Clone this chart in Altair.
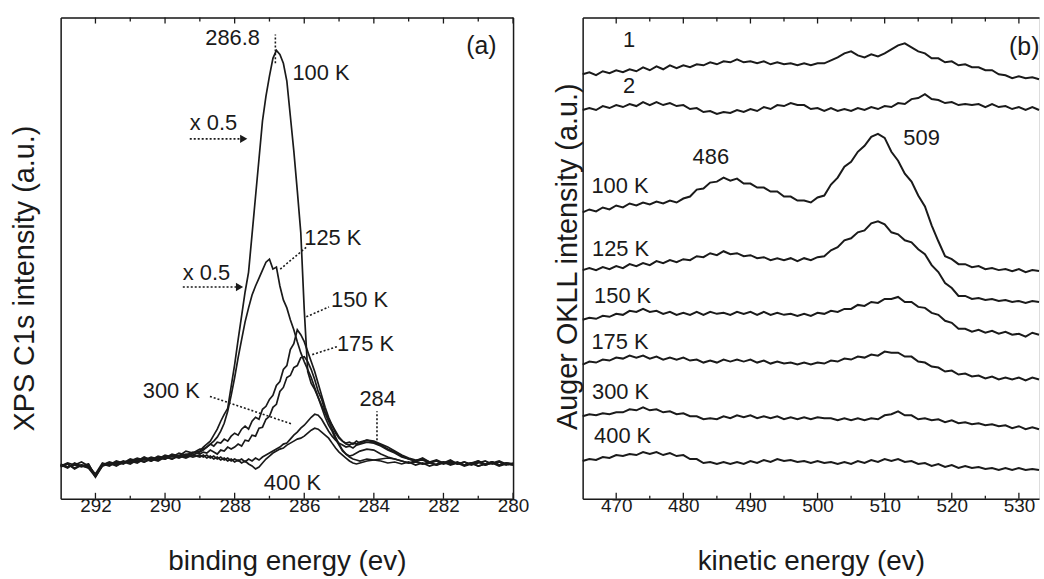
import altair as alt
import pandas as pd

FONT = "Liberation Sans"
INK = "#1a1a1a"

# ---------------- Panel (a): XPS C1s ----------------
E_A = [293.0, 292.8, 292.6, 292.4, 292.2, 292.0, 291.8, 291.6, 291.4, 291.2, 291.0,
       290.8, 290.6, 290.4, 290.2, 290.0, 289.8, 289.6, 289.4, 289.2, 289.0,
       288.9, 288.8, 288.7, 288.6, 288.5, 288.4, 288.3, 288.2, 288.1, 288.0,
       287.9, 287.8, 287.7, 287.6, 287.5, 287.4, 287.3, 287.2, 287.1, 287.0,
       286.9, 286.8, 286.7, 286.6, 286.5, 286.4, 286.3, 286.2, 286.1, 286.0,
       285.9, 285.8, 285.7, 285.6, 285.5, 285.4, 285.3, 285.2, 285.1, 285.0,
       284.9, 284.8, 284.7, 284.6, 284.5,
       284.4, 284.2, 284.0, 283.8, 283.6, 283.4, 283.2, 283.0, 282.8, 282.6, 282.4,
       282.2, 282.0, 281.8, 281.6, 281.4, 281.2, 281.0, 280.8, 280.6, 280.4, 280.2, 280.0]

H_A_100K = [32, 35, 30, 34, 31, 24, 33, 36, 35, 38, 36, 40, 37, 41, 39, 43, 40, 44, 42, 46, 48,
            52, 55, 58, 64, 70, 78, 85, 91, 113, 135, 160, 184, 208, 228, 266, 304, 342, 380, 405, 425,
            443, 451, 447, 438, 420, 385, 350, 310, 268, 190, 128, 116, 110, 102, 94, 86, 78, 70, 62, 55,
            49, 45, 42, 40, 39,
            38, 40, 39, 38, 36, 37, 35, 37, 34, 36, 33, 35, 37, 34, 36, 33, 35, 38, 34, 36, 33, 35, 34]
H_A_125K = [34, 31, 36, 33, 35, 22, 35, 33, 37, 35, 39, 37, 41, 38, 42, 40, 44, 42, 45, 44, 47,
            49, 52, 55, 58, 62, 68, 76, 88, 104, 122, 142, 160, 178, 192, 205, 214, 222, 230, 238, 241,
            231, 233, 214, 200, 192, 180, 170, 158, 147, 138, 130, 122, 112, 102, 92, 82, 74, 68, 60, 54,
            48, 45, 43, 44, 46,
            48, 50, 49, 45, 42, 40, 38, 36, 38, 35, 37, 34, 36, 35, 37, 34, 36, 33, 35, 37, 34, 36, 35]
H_A_150K = [35, 32, 34, 37, 33, 25, 36, 34, 38, 36, 40, 38, 42, 39, 43, 41, 45, 43, 48, 46, 50,
            50, 52, 55, 53, 57, 56, 60, 58, 63, 66, 64, 70, 73, 70, 78, 82, 80, 90, 93, 100,
            104, 114, 118, 130, 134, 150, 156, 170, 165, 158, 148, 138, 128, 116, 104, 92, 82, 74, 68, 62,
            58, 55, 54, 56, 55,
            57, 59, 58, 55, 52, 48, 44, 41, 39, 40, 37, 38, 36, 39, 35, 37, 34, 36, 38, 35, 37, 34, 36]
H_A_175K = [33, 36, 34, 32, 35, 23, 34, 37, 35, 37, 38, 41, 39, 42, 40, 44, 42, 46, 44, 47, 45,
            47, 46, 49, 47, 45, 49, 48, 52, 50, 52, 55, 53, 59, 58, 64, 63, 71, 72, 80, 83,
            92, 95, 108, 112, 122, 124, 132, 134, 142, 143, 138, 130, 120, 108, 100, 88, 80, 74, 66, 61,
            58, 56, 57, 55, 58,
            56, 59, 57, 54, 50, 47, 43, 40, 38, 41, 37, 39, 36, 38, 35, 37, 35, 37, 34, 36, 38, 35, 34]
H_A_300K = [34, 32, 35, 33, 31, 22, 33, 35, 34, 36, 38, 36, 40, 38, 41, 40, 43, 41, 44, 42, 44,
            42, 44, 41, 43, 40, 42, 39, 41, 38, 40, 38, 40, 37, 40, 38, 41, 39, 42, 44, 46,
            48, 50, 52, 55, 56, 60, 64, 67, 71, 74, 78, 82, 85, 84, 80, 74, 68, 63, 59, 56,
            54, 52, 53, 51, 54,
            55, 57, 56, 53, 49, 46, 42, 40, 38, 39, 36, 38, 35, 37, 36, 34, 36, 38, 35, 37, 34, 36, 35]
H_A_400K = [33, 35, 31, 34, 32, 24, 34, 36, 33, 37, 35, 39, 37, 40, 38, 42, 40, 43, 41, 44, 42,
            44, 41, 43, 40, 42, 39, 41, 38, 40, 37, 39, 36, 38, 35, 33, 30, 32, 36, 40, 43,
            46, 48, 50, 51, 54, 56, 58, 60, 61, 63, 66, 69, 71, 70, 67, 64, 61, 56, 51, 47,
            44, 41, 38, 36, 35,
            36, 38, 39, 40, 41, 40, 38, 36, 37, 35, 36, 34, 37, 35, 36, 34, 36, 33, 35, 37, 34, 36, 35]

A_MAJOR = [292, 290, 288, 286, 284, 282, 280]
A_MINOR = [291, 289, 287, 285, 283, 281]

# ---------------- Panel (b): Auger OKLL ----------------
E_B = [465, 466, 467, 468, 469, 470, 471, 472, 473, 474, 475, 476, 477, 478, 479, 480,
       481, 482, 483, 484, 485, 486, 487, 488, 489, 490, 491, 492, 493, 494, 495, 496,
       497, 498, 499, 500, 501, 502, 503, 504, 505, 506, 507, 508, 509, 510, 511, 512,
       513, 514, 515, 516, 517, 518, 519, 520, 521, 522, 523, 524, 525, 526, 527, 528,
       529, 530, 531, 532, 533]

H_B_1 = [427, 429, 426, 430, 428, 431, 429, 432, 430, 434, 431, 435, 432, 436, 433, 436, 434, 437, 436, 439,
         437, 440, 439, 442, 439, 440, 438, 440, 437, 439, 437, 438, 436, 438, 436, 438, 438, 441, 444, 448,
         450, 446, 444, 447, 445, 448, 452, 456, 458, 454, 450, 448, 443, 443, 439, 440, 436, 437, 434, 434,
         431, 431, 427, 426, 423, 425, 423, 424, 422]
H_B_2 = [391, 393, 391, 395, 393, 396, 394, 397, 395, 399, 396, 399, 396, 398, 395, 396, 392, 393, 389, 390,
         387, 389, 388, 391, 389, 392, 390, 394, 392, 396, 395, 398, 396, 396, 392, 393, 390, 393, 390, 392,
         390, 393, 391, 394, 392, 395, 394, 398, 397, 402, 403, 407, 402, 401, 398, 399, 396, 397, 396, 397,
         394, 397, 394, 395, 392, 394, 391, 394, 391]
H_B_100K = [288, 291, 289, 293, 291, 295, 293, 297, 295, 298, 296, 299, 297, 300, 298, 302, 304, 311, 312, 318,
            319, 323, 320, 322, 317, 317, 313, 313, 309, 309, 304, 304, 300, 300, 298, 303, 305, 316, 323, 334,
            339, 349, 355, 364, 367, 363, 349, 340, 327, 319, 305, 294, 275, 259, 244, 241, 236, 236, 233, 234,
            231, 232, 230, 231, 229, 231, 228, 230, 229]
H_B_125K = [230, 232, 230, 233, 231, 234, 232, 236, 234, 237, 235, 239, 237, 240, 238, 241, 240, 244, 243, 247,
            245, 249, 246, 247, 244, 245, 242, 243, 240, 242, 240, 242, 239, 242, 240, 243, 244, 250, 253, 260,
            262, 268, 270, 277, 279, 276, 268, 266, 260, 258, 251, 246, 235, 228, 217, 212, 204, 204, 201, 202,
            200, 201, 199, 200, 198, 199, 197, 199, 198]
H_B_150K = [180, 182, 181, 184, 183, 186, 185, 189, 188, 191, 188, 189, 186, 188, 185, 187, 185, 188, 185, 188,
            186, 187, 185, 188, 186, 188, 185, 188, 185, 187, 185, 186, 184, 186, 184, 187, 186, 189, 188, 191,
            191, 195, 194, 198, 197, 201, 201, 203, 198, 198, 193, 192, 187, 185, 179, 177, 171, 171, 168, 170,
            167, 169, 166, 168, 165, 166, 163, 167, 165]
H_B_175K = [135, 138, 137, 140, 139, 142, 141, 144, 142, 144, 141, 143, 140, 142, 140, 142, 139, 140, 137, 139,
            137, 140, 138, 140, 138, 140, 137, 139, 136, 138, 136, 137, 135, 137, 135, 137, 136, 139, 138, 141,
            140, 143, 142, 145, 144, 148, 147, 147, 143, 143, 138, 137, 133, 132, 128, 129, 125, 126, 123, 124,
            121, 123, 120, 122, 120, 122, 119, 122, 120]
H_B_300K = [83, 85, 84, 86, 85, 87, 87, 90, 89, 92, 89, 90, 87, 88, 85, 86, 83, 83, 80, 81,
            80, 83, 81, 84, 82, 84, 81, 83, 81, 83, 80, 82, 80, 82, 80, 82, 81, 81, 79, 81,
            79, 81, 79, 81, 80, 84, 85, 88, 84, 84, 80, 81, 79, 80, 77, 79, 76, 77, 75, 76,
            74, 75, 73, 74, 71, 73, 70, 72, 70]
H_B_400K = [38, 40, 39, 42, 41, 44, 43, 45, 44, 47, 45, 47, 44, 46, 43, 44, 40, 40, 36, 37,
            35, 37, 35, 37, 35, 38, 36, 39, 37, 40, 38, 39, 37, 38, 36, 38, 36, 37, 35, 37,
            35, 38, 36, 39, 37, 40, 38, 40, 37, 38, 35, 36, 33, 35, 32, 34, 31, 33, 31, 32,
            30, 31, 29, 31, 29, 31, 29, 30, 29]

B_MAJOR = [470, 480, 490, 500, 510, 520, 530]
B_MINOR = [475, 485, 495, 505, 515, 525]

# ---------------- Annotations ----------------
ANN_A = [
    ("286.8", 288.06, 463, "center", 22),
    ("100 K", 286.34, 428, "left", 22),
    ("x 0.5", 289.29, 378, "left", 22),
    ("x 0.5", 289.49, 227, "left", 22),
    ("125 K", 286.00, 262, "left", 22),
    ("150 K", 285.23, 200, "left", 22),
    ("175 K", 285.06, 156, "left", 22),
    ("300 K", 289.00, 108, "right", 22),
    ("400 K", 286.34, 16, "center", 22),
    ("284", 283.89, 100, "center", 22),
    ("(a)", 280.91, 455, "center", 25),
]
LEAD_A = [
    (286.83, 438, 286.83, 467),
    (283.91, 55, 283.91, 88),
    (286.69, 231, 285.94, 253),
    (285.94, 183, 285.29, 193),
    (285.77, 145, 285.06, 153),
    (288.71, 103, 286.34, 75),
    (289.29, 362, 287.80, 362),
    (289.49, 213, 287.92, 213),
]
ARROWS_A = [(287.74, 362), (287.86, 213)]

ANN_B = [
    ("1", 471.9, 461, "center", 22),
    ("2", 471.9, 415, "center", 22),
    ("100 K", 466.3, 315, "left", 22),
    ("125 K", 466.4, 251, "left", 22),
    ("150 K", 466.7, 204, "left", 22),
    ("175 K", 466.3, 158, "left", 22),
    ("300 K", 466.4, 107, "left", 22),
    ("400 K", 466.7, 63, "left", 22),
    ("486", 484.1, 344, "center", 22),
    ("509", 515.5, 363, "center", 22),
    ("(b)", 530.8, 454, "center", 25),
]


def long_df(E, curves):
    rows = []
    for name, vals in curves.items():
        assert len(vals) == len(E), (name, len(vals), len(E))
        for i, (e, h) in enumerate(zip(E, vals)):
            rows.append({"E": e, "H": h, "s": name, "i": i})
    return pd.DataFrame(rows)


df_a = long_df(E_A, {"100K": H_A_100K, "125K": H_A_125K, "150K": H_A_150K,
                     "175K": H_A_175K, "300K": H_A_300K, "400K": H_A_400K})
df_b = long_df(E_B, {"1": H_B_1, "2": H_B_2, "100K": H_B_100K, "125K": H_B_125K,
                     "150K": H_B_150K, "175K": H_B_175K, "300K": H_B_300K, "400K": H_B_400K})

W_A, W_B, H = 455, 459, 484

xa_scale = alt.Scale(domain=[280, 293], reverse=True, nice=False, zero=False)
xb_scale = alt.Scale(domain=[465, 533], nice=False, zero=False)
y_scale = alt.Scale(domain=[0, 484], nice=False, zero=False)


def x_axis(values, title):
    return alt.Axis(values=values, format="d", ticks=False, tickSize=0, grid=False,
                    domain=True, domainColor=INK, domainWidth=1.5,
                    labelFont=FONT, labelFontSize=19, labelColor=INK, labelPadding=-2,
                    labelFlush=False, labelOverlap=False,
                    title=title, titleFont=FONT, titleFontSize=28, titleFontWeight="normal",
                    titleColor=INK, titlePadding=32)


def y_axis(title, pad, title_y):
    return alt.Axis(labels=False, ticks=False, tickSize=0, grid=False,
                    domain=True, domainColor=INK, domainWidth=1.5,
                    title=title, titleFont=FONT, titleFontSize=29, titleFontWeight="normal",
                    titleColor=INK, titlePadding=pad, titleY=title_y)


def tick_layers(major, minor, xscale):
    tm = pd.DataFrame({"E": major})
    tn = pd.DataFrame({"E": minor})
    out = []
    for d, y1, y2 in [(tm, H, H - 6), (tn, H, H - 3), (tm, 0, 6), (tn, 0, 4)]:
        out.append(alt.Chart(d).mark_rule(color=INK, strokeWidth=1.3).encode(
            x=alt.X("E:Q", scale=xscale, axis=None),
            y=alt.value(y1), y2=alt.value(y2)))
    return out


def text_layers(ann, xscale):
    df = pd.DataFrame(ann, columns=["label", "E", "H", "align", "fs"])
    out = []
    for al in ["left", "center", "right"]:
        sub = df[df["align"] == al]
        if len(sub) == 0:
            continue
        out.append(alt.Chart(sub).mark_text(align=al, baseline="middle", font=FONT, color=INK).encode(
            x=alt.X("E:Q", scale=xscale, axis=None),
            y=alt.Y("H:Q", scale=y_scale, axis=None),
            text="label:N",
            size=alt.Size("fs:Q", scale=None, legend=None)))
    return out


# ---- panel a ----
lines_a = alt.Chart(df_a).mark_line(color=INK, strokeWidth=1.7).encode(
    x=alt.X("E:Q", scale=xa_scale, axis=x_axis(A_MAJOR, "binding energy (ev)")),
    y=alt.Y("H:Q", scale=y_scale, axis=y_axis("XPS C1s intensity (a.u.)", 21, 262)),
    detail="s:N", order="i:Q")

lead_df = pd.DataFrame(LEAD_A, columns=["E1", "H1", "E2", "H2"])
leaders_a = alt.Chart(lead_df).mark_rule(color=INK, strokeWidth=1.6, strokeDash=[2, 2]).encode(
    x=alt.X("E1:Q", scale=xa_scale, axis=None), x2="E2:Q",
    y=alt.Y("H1:Q", scale=y_scale, axis=None), y2="H2:Q")
arrow_df = pd.DataFrame(ARROWS_A, columns=["E", "H"])
arrows_a = alt.Chart(arrow_df).mark_point(shape="triangle-right", filled=True, size=70,
                                         color=INK, opacity=1).encode(
    x=alt.X("E:Q", scale=xa_scale, axis=None),
    y=alt.Y("H:Q", scale=y_scale, axis=None))

top_a = alt.Chart(pd.DataFrame({"E": [293, 280]})).mark_rule(opacity=0).encode(
    x=alt.X("E:Q", scale=xa_scale, axis=alt.Axis(orient="top", labels=False, ticks=False, grid=False,
                                                  title=None, domainColor=INK, domainWidth=1.5)))
right_a = alt.Chart(pd.DataFrame({"H": [0, 484]})).mark_rule(opacity=0).encode(
    y=alt.Y("H:Q", scale=y_scale, axis=alt.Axis(orient="right", labels=False, ticks=False, grid=False,
                                                 title=None, domainColor=INK, domainWidth=1.5)))

panel_a = alt.layer(lines_a, top_a, right_a, leaders_a, arrows_a,
                    *tick_layers(A_MAJOR, A_MINOR, xa_scale),
                    *text_layers(ANN_A, xa_scale)).resolve_axis(
    x="independent", y="independent").properties(width=W_A, height=H)

# ---- panel b ----
lines_b = alt.Chart(df_b).mark_line(color=INK, strokeWidth=2.0).encode(
    x=alt.X("E:Q", scale=xb_scale, axis=x_axis(B_MAJOR, "kinetic energy (ev)")),
    y=alt.Y("H:Q", scale=y_scale, axis=y_axis("Auger OKLL intensity (a.u.)", 0, 240)),
    detail="s:N", order="i:Q")
top_b = alt.Chart(pd.DataFrame({"E": [465, 533]})).mark_rule(opacity=0).encode(
    x=alt.X("E:Q", scale=xb_scale, axis=alt.Axis(orient="top", labels=False, ticks=False, grid=False,
                                                  title=None, domainColor=INK, domainWidth=1.5)))

panel_b = alt.layer(lines_b, top_b,
                    *tick_layers(B_MAJOR, B_MINOR, xb_scale),
                    *text_layers(ANN_B, xb_scale)).resolve_axis(
    x="independent", y="independent").properties(width=W_B, height=H)

chart = alt.hconcat(panel_a, panel_b, spacing=23).properties(
    padding={"left": 10, "top": 14, "right": 0, "bottom": 0}
).configure_view(strokeWidth=0).configure(font=FONT)

chart.save("out.html", embed_options={"renderer": "svg", "actions": False})
